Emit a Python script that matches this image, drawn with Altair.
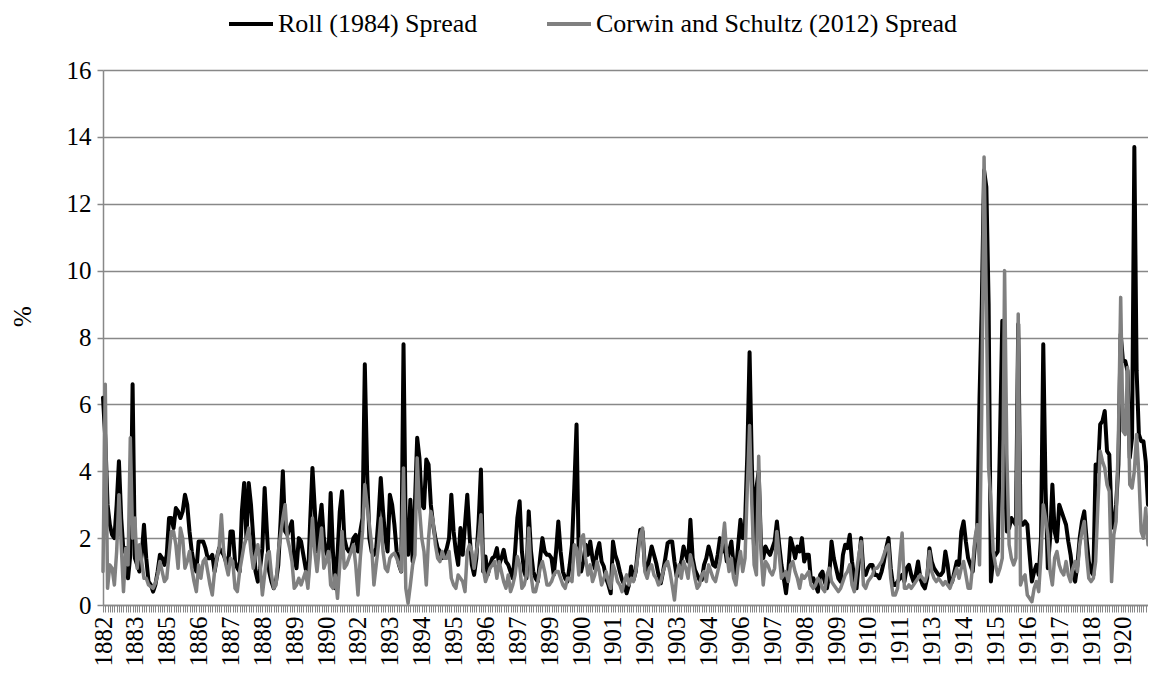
import altair as alt
import pandas as pd

ROLL = "Roll (1984) Spread"
CS = "Corwin and Schultz (2012) Spread"

year_labels = ["1882", "1883", "1885", "1886", "1887", "1888", "1889", "1890", "1892", "1893",
               "1894", "1895", "1896", "1897", "1899", "1900", "1901", "1902", "1903", "1904",
               "1906", "1907", "1908", "1909", "1910", "1911", "1913", "1914", "1915", "1916",
               "1917", "1918", "1920"]
label_step = 14

roll_spread = [
    6.2, 5.0, 3.0, 2.4, 2.1, 2.0, 3.0, 4.3, 2.6, 1.6, 1.7, 0.8, 1.5, 6.6,
    1.4, 1.2, 1.0, 1.5, 2.4, 1.4, 0.7, 0.6, 0.4, 0.6, 1.0, 1.5, 1.4, 1.2,
    1.5, 2.6, 2.6, 2.3, 2.9, 2.8, 2.6, 2.8, 3.3, 3.0, 2.2, 1.6, 1.2, 1.0,
    1.9, 1.9, 1.9, 1.7, 1.4, 1.4, 1.5, 1.0, 1.4, 1.7, 1.6, 1.5, 1.3, 1.2,
    2.2, 2.2, 1.3, 1.1, 1.0, 2.8, 3.65, 2.0, 3.65, 3.0, 2.0, 1.0, 0.7, 1.1,
    1.7, 3.5, 2.2, 1.0, 0.7, 0.5, 0.7, 1.2, 2.5, 4.0, 2.2, 2.1, 2.3, 2.5,
    1.4, 1.1, 2.0, 1.9, 1.5, 1.1, 0.7, 2.5, 4.1, 2.9, 1.6, 2.4, 3.0, 2.0,
    1.6, 1.4, 3.35, 1.6, 0.5, 1.5, 2.8, 3.4, 2.0, 1.7, 1.6, 1.7, 2.0, 2.1,
    1.6, 2.2, 2.6, 7.2, 4.0, 2.0, 1.6, 1.5, 1.7, 2.6, 3.8, 2.8, 2.0, 1.6,
    3.3, 3.0, 2.4, 1.6, 1.2, 1.0, 7.8, 2.0, 1.5, 3.15, 1.3, 3.0, 5.0, 4.4,
    3.0, 2.9, 4.35, 4.2, 3.0, 2.4, 2.0, 1.7, 1.6, 1.4, 1.5, 1.7, 2.0, 3.3,
    2.2, 1.6, 1.2, 2.3, 1.5, 2.4, 3.3, 2.1, 1.2, 0.9, 1.4, 2.5, 4.05, 1.0,
    1.45, 0.9, 1.2, 1.4, 1.45, 1.7, 1.2, 1.4, 1.65, 1.3, 1.2, 1.0, 0.8, 1.6,
    2.6, 3.1, 1.6, 1.0, 0.8, 2.8, 1.6, 1.0, 0.8, 0.7, 1.4, 2.0, 1.6, 1.5,
    1.5, 1.4, 0.9, 1.6, 2.5, 1.6, 1.0, 0.8, 0.7, 1.2, 1.8, 3.5, 5.4, 1.3,
    1.0, 1.3, 1.8, 1.5, 1.9, 1.4, 1.1, 1.6, 1.85, 1.3, 1.15, 0.8, 0.6, 0.35,
    1.9, 1.5, 1.3, 1.0, 0.75, 0.6, 0.35, 0.6, 1.15, 0.75, 1.0, 1.7, 2.25, 2.2,
    1.15, 1.0, 1.4, 1.75, 1.5, 1.25, 0.9, 0.65, 1.0, 1.4, 1.85, 1.9, 1.9, 1.3,
    0.85, 1.0, 1.3, 1.75, 1.5, 1.3, 2.55, 1.4, 1.05, 0.9, 0.75, 0.75, 1.2, 1.4,
    1.75, 1.5, 1.2, 1.15, 1.5, 2.0, 1.6, 1.8, 1.3, 1.6, 1.9, 1.2, 0.95, 1.8,
    2.55, 2.0, 2.4, 4.5, 7.56, 4.2, 1.6, 3.5, 4.0, 1.8, 1.4, 1.75, 1.6, 1.5,
    1.7, 1.9, 2.5, 1.8, 1.2, 0.8, 0.35, 1.0, 2.0, 1.75, 1.4, 1.75, 1.6, 2.0,
    1.3, 1.5, 1.5, 0.7, 0.8, 0.6, 0.4, 0.9, 1.0, 0.7, 0.5, 0.9, 1.9, 1.4,
    1.1, 0.8, 0.7, 1.5, 1.8, 1.7, 2.1, 1.3, 0.8, 0.5, 1.3, 2.0, 1.0, 0.9,
    1.1, 1.2, 1.2, 0.9, 0.9, 0.8, 1.0, 1.3, 1.7, 2.0, 1.1, 0.6, 0.6, 0.7,
    0.8, 0.9, 0.7, 1.1, 1.2, 0.9, 0.7, 0.9, 1.3, 0.8, 0.6, 0.5, 0.8, 1.7,
    1.3, 1.1, 1.0, 0.9, 0.9, 1.0, 1.6, 1.2, 0.6, 0.7, 1.0, 1.3, 1.2, 2.2,
    2.5, 1.9, 1.4, 1.2, 1.0, 1.8, 2.3, 6.2, 9.0, 13.0, 12.5, 9.0, 0.7, 1.4,
    1.5, 1.6, 5.0, 8.5, 4.1, 2.2, 2.3, 2.6, 2.5, 2.4, 8.4, 2.4, 2.4, 2.5,
    2.4, 1.5, 0.7, 1.0, 1.2, 0.9, 2.0, 7.8, 3.5, 1.1, 2.0, 3.6, 2.2, 1.9,
    3.0, 2.8, 2.6, 2.4, 1.9, 1.5, 0.9, 0.7, 1.2, 2.0, 2.5, 2.8, 2.0, 1.3,
    1.0, 0.9, 4.2, 4.0, 5.4, 5.5, 5.8, 4.6, 4.5, 2.6, 2.3, 3.0, 4.2, 8.1,
    7.3, 7.3, 7.0, 4.4, 5.0, 13.7, 7.0, 5.1, 4.9, 4.9, 4.3, 3.0,
]

cs_spread = [
    1.0, 6.6, 0.5, 1.2, 1.1, 0.6, 1.6, 3.3, 1.8, 0.4, 1.7, 1.2, 5.0, 2.0,
    2.6, 1.1, 1.8, 1.3, 0.8, 0.8, 0.6, 0.55, 0.5, 0.65, 0.9, 1.3, 1.0, 0.7,
    0.8, 1.5, 2.2, 2.2, 1.8, 1.1, 2.3, 2.0, 1.1, 1.3, 1.6, 1.1, 0.7, 0.4,
    1.2, 0.8, 1.3, 1.4, 1.0, 0.6, 0.3, 1.0, 1.4, 1.7, 2.7, 1.6, 1.2, 0.9,
    1.4, 1.3, 0.5, 0.4, 1.0, 1.4, 1.8, 2.0, 2.3, 1.6, 1.1, 1.5, 1.8, 1.2,
    0.3, 0.9, 1.5, 1.6, 0.9, 0.5, 0.6, 1.6, 2.1, 2.6, 3.0, 2.0, 1.7, 1.3,
    0.5, 0.6, 0.8, 0.6, 0.8, 1.0, 0.5, 1.4, 2.6, 1.6, 1.0, 1.7, 2.3, 1.1,
    1.3, 1.6, 0.6, 0.5, 0.9, 0.2, 1.2, 2.2, 1.1, 1.2, 1.4, 1.6, 1.8, 1.2,
    0.3, 1.4, 2.2, 3.6, 3.0, 2.4, 1.8, 0.6, 1.2, 1.8, 2.6, 1.6, 1.1, 1.0,
    1.4, 1.5, 1.55, 1.4, 1.2, 1.0, 4.1, 0.5, 0.05, 0.6, 1.2, 1.5, 4.4, 2.9,
    2.0, 1.6, 0.6, 2.0, 2.8, 2.5, 1.8, 1.4, 1.3, 1.6, 1.4, 1.4, 1.6, 0.8,
    0.6, 0.5, 0.9, 0.8, 0.7, 0.4, 1.6, 1.8, 1.6, 1.1, 1.6, 2.0, 2.7, 1.1,
    0.7, 0.9, 1.1, 1.2, 1.3, 0.8, 1.3, 1.0, 0.7, 0.5, 0.9, 0.4, 0.6, 0.9,
    1.45, 1.2, 0.5, 0.6, 0.9, 2.3, 0.9, 0.4, 0.4, 0.7, 1.1, 1.3, 1.0, 0.6,
    0.6, 0.7, 0.9, 1.0, 1.0, 0.8, 0.6, 0.5, 0.8, 0.8, 0.7, 1.8, 1.7, 0.9,
    2.0, 2.1, 1.4, 0.9, 1.2, 0.7, 0.9, 1.3, 1.0, 0.6, 0.8, 1.0, 0.7, 0.5,
    1.2, 1.0, 0.7, 0.6, 0.4, 0.7, 0.9, 0.6, 0.8, 0.7, 1.0, 1.5, 2.1, 2.3,
    1.0, 0.8, 1.1, 1.2, 0.9, 0.8, 0.6, 0.7, 1.0, 1.2, 1.3, 1.0, 0.6, 0.15,
    0.9, 1.2, 0.8, 1.3, 1.1, 0.8, 1.5, 1.2, 0.8, 0.5, 0.6, 0.9, 1.0, 0.7,
    1.2, 1.0, 0.8, 0.7, 1.0, 1.3, 1.8, 2.45, 1.5, 1.0, 1.4, 0.8, 0.6, 1.2,
    1.6, 1.0, 1.4, 3.5, 5.37, 3.0, 1.2, 0.9, 4.45, 1.6, 0.6, 1.3, 1.2, 1.0,
    0.9, 1.1, 2.2, 1.5, 0.8, 0.9, 1.0, 0.7, 1.2, 1.3, 1.0, 0.8, 0.5, 0.9,
    0.8, 0.9, 1.0, 0.6, 0.5, 0.6, 0.8, 0.7, 0.5, 0.4, 0.9, 1.1, 0.7, 0.6,
    0.5, 0.4, 0.5, 0.7, 0.9, 1.0, 1.2, 0.6, 0.4, 1.0, 1.5, 1.9, 0.6, 0.5,
    0.7, 0.8, 0.9, 1.1, 1.1, 1.2, 1.3, 1.5, 1.7, 1.8, 0.8, 0.3, 0.3, 0.5,
    1.4, 2.15, 0.5, 0.5, 0.6, 0.5, 0.6, 0.7, 0.8, 0.9, 0.8, 0.7, 0.9, 1.6,
    1.0, 0.8, 0.7, 0.8, 0.7, 0.6, 0.7, 0.6, 0.5, 0.7, 0.9, 1.1, 0.8, 1.1,
    1.3, 0.9, 0.5, 0.5, 1.2, 2.0, 2.4, 1.2, 6.0, 13.4, 9.0, 4.1, 3.1, 1.6,
    1.2, 0.9, 1.1, 1.4, 10.0, 4.5, 1.8, 1.4, 1.2, 1.4, 8.7, 0.6, 0.8, 0.9,
    0.3, 0.2, 0.1, 0.5, 0.7, 0.4, 1.5, 3.0, 2.6, 2.1, 1.0, 0.6, 1.4, 1.6,
    1.2, 1.0, 0.9, 1.3, 0.9, 0.7, 1.1, 1.3, 1.0, 1.8, 2.2, 2.5, 1.5, 0.8,
    0.7, 0.8, 1.3, 3.0, 4.6, 4.3, 4.1, 3.6, 3.4, 0.7, 2.1, 2.5, 5.0, 9.2,
    5.2, 5.1, 7.1, 3.6, 3.5, 4.0, 5.1, 3.9, 2.2, 2.0, 2.9, 1.8,
]

n = len(roll_spread)
df = pd.DataFrame({
    "idx": list(range(n)) * 2,
    "value": roll_spread + cs_spread,
    "series": [ROLL] * n + [CS] * n,
})

FONT = "Times New Roman, Liberation Serif, DejaVu Serif, serif"
GRID = "#888888"

labels_js = "[" + ",".join("'" + y + "'" for y in year_labels) + "]"
label_expr = f"datum.value % {label_step} == 0 ? {labels_js}[datum.value / {label_step}] : ''"

x_enc = alt.X(
    "idx:Q",
    scale=alt.Scale(domain=[0, n - 1], nice=False, zero=False),
    axis=alt.Axis(
        values=list(range(n)), labelExpr=label_expr, labelAngle=270,
        labelAlign="right", labelBaseline="middle", labelPadding=4,
        labelOverlap=False, labelFlush=False, labelFont=FONT, labelFontSize=25,
        labelColor="#000000", tickSize=7, tickColor=GRID, tickWidth=1,
        domainColor=GRID, domainWidth=1.5, grid=False, title=None,
    ),
)
y_enc = alt.Y(
    "value:Q",
    scale=alt.Scale(domain=[0, 16], nice=False),
    axis=alt.Axis(
        values=[0, 2, 4, 6, 8, 10, 12, 14, 16], grid=True, gridColor=GRID, gridWidth=1.5,
        domainColor=GRID, domainWidth=1.5, tickColor=GRID, tickSize=6, tickWidth=1.5,
        labelFont=FONT, labelFontSize=25, labelColor="#000000", labelPadding=6,
        title="%", titleFont=FONT, titleFontSize=25, titleFontWeight="normal",
        titleColor="#000000", titleAngle=270, titleX=-81, titleY=246,
        titleAlign="center", titleBaseline="middle",
    ),
)
color_enc = alt.Color(
    "series:N",
    scale=alt.Scale(domain=[ROLL, CS], range=["#000000", "#808080"]),
    legend=alt.Legend(
        title=None, orient="none", legendX=124, legendY=-70, direction="horizontal",
        symbolType="stroke", symbolSize=1936, symbolStrokeWidth=4,
        labelFont=FONT, labelFontSize=26, labelColor="#000000", labelOffset=3,
        labelLimit=0, columnPadding=61,
    ),
)

base = alt.Chart(df)
roll_line = base.transform_filter(alt.datum.series == ROLL).mark_line(
    strokeWidth=4, strokeJoin="round", strokeCap="round"
).encode(x=x_enc, y=y_enc, color=color_enc)
cs_line = base.transform_filter(alt.datum.series == CS).mark_line(
    strokeWidth=3.5, strokeJoin="round", strokeCap="round"
).encode(x=x_enc, y=y_enc, color=color_enc)

chart = alt.layer(roll_line, cs_line).properties(
    width=1045, height=535,
    padding={"left": 95, "top": 62, "right": 0, "bottom": 60},
    autosize=alt.AutoSizeParams(type="none"),
    background="#ffffff",
).configure(font=FONT).configure_view(stroke=None)

chart.save("out.html", embed_options={"renderer": "svg", "actions": False})
